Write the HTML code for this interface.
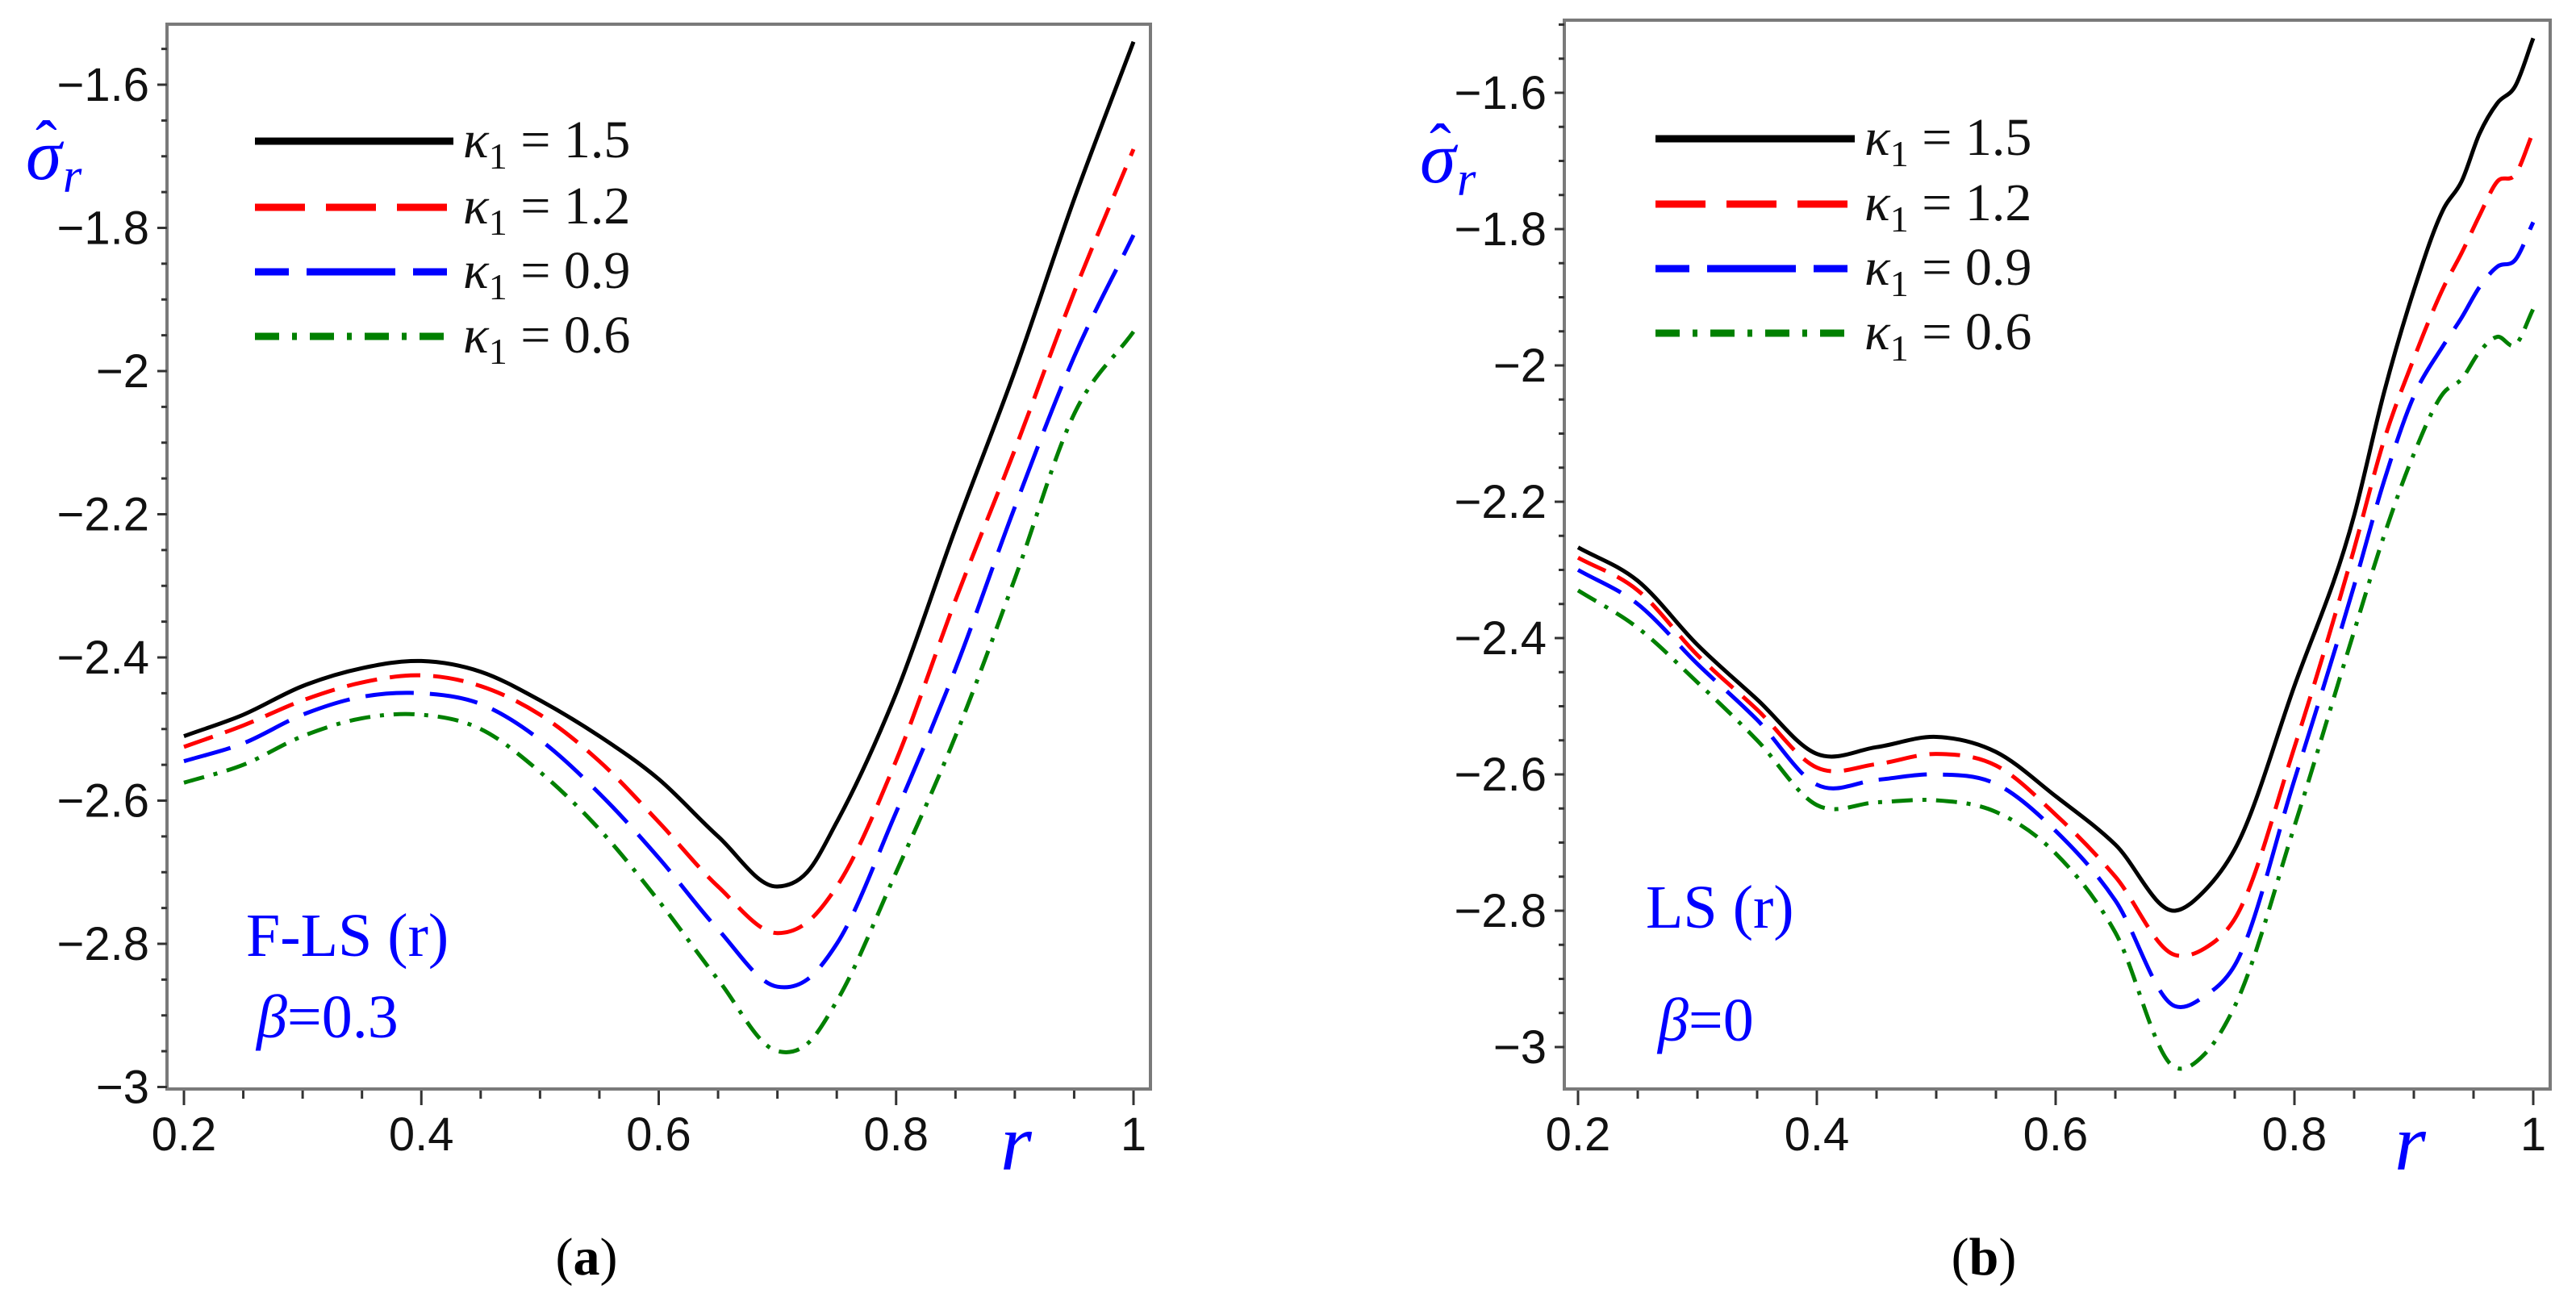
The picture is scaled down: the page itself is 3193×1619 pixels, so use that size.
<!DOCTYPE html>
<html><head><meta charset="utf-8">
<style>
html,body{margin:0;padding:0;background:#fff;}
svg{display:block;}
</style></head>
<body>
<svg id="fig" width="3193" height="1619" viewBox="0 0 3193 1619" xmlns="http://www.w3.org/2000/svg"></svg>
<script>
// ---- data: panel (a) F-LS beta=0.3 ----
const rA = [0.2,0.25,0.3,0.35,0.4,0.45,0.5,0.55,0.6,0.65,0.7,0.725,0.75,0.8,0.85,0.9,0.95,1.0];
const aK15 = [-2.51,-2.48,-2.44,-2.415,-2.405,-2.42,-2.46,-2.51,-2.57,-2.65,-2.72,-2.7,-2.63,-2.45,-2.22,-2.0,-1.76,-1.54];
const aK12 = [-2.525,-2.495,-2.46,-2.435,-2.425,-2.44,-2.48,-2.545,-2.63,-2.72,-2.785,-2.77,-2.72,-2.544,-2.32,-2.11,-1.89,-1.69];
const aK09 = [-2.545,-2.52,-2.48,-2.455,-2.45,-2.465,-2.515,-2.59,-2.68,-2.78,-2.86,-2.85,-2.8,-2.616,-2.416,-2.19,-1.98,-1.81];
const aK06 = [-2.575,-2.55,-2.51,-2.485,-2.48,-2.5,-2.56,-2.64,-2.74,-2.85,-2.95,-2.94,-2.88,-2.70,-2.51,-2.29,-2.06,-1.945];
// ---- data: panel (b) LS beta=0 ----
const rB = [0.2,0.25,0.3,0.35,0.4,0.45,0.5,0.55,0.6,0.65,0.7,0.725,0.75,0.8,0.85,0.875,0.9,0.925,0.94,0.955,0.97,0.985,1.0];
const bK15 = [-2.267,-2.316,-2.41,-2.49,-2.57,-2.56,-2.545,-2.567,-2.632,-2.703,-2.80,-2.77,-2.71,-2.47,-2.22,-2.04,-1.89,-1.77,-1.73,-1.66,-1.615,-1.59,-1.52];
const bK12 = [-2.282,-2.33,-2.425,-2.505,-2.59,-2.585,-2.57,-2.587,-2.659,-2.75,-2.865,-2.855,-2.812,-2.56,-2.269,-2.11,-1.99,-1.885,-1.835,-1.78,-1.73,-1.72,-1.657];
const bK09 = [-2.30,-2.35,-2.438,-2.52,-2.615,-2.608,-2.60,-2.614,-2.683,-2.785,-2.94,-2.925,-2.88,-2.608,-2.323,-2.17,-2.045,-1.97,-1.93,-1.885,-1.855,-1.845,-1.79];
const bK06 = [-2.33,-2.385,-2.465,-2.55,-2.645,-2.641,-2.638,-2.655,-2.716,-2.832,-3.03,-3.01,-2.94,-2.676,-2.39,-2.25,-2.13,-2.04,-2.02,-1.98,-1.958,-1.97,-1.917];
// ---- tick labels & legend ----
const xTickVals = [0.2,0.4,0.6,0.8,1];
const xTickLabels = ["0.2","0.4","0.6","0.8","1"];
const yTickVals = [-1.6,-1.8,-2,-2.2,-2.4,-2.6,-2.8,-3];
const yTickLabels = ["\u22121.6","\u22121.8","\u22122","\u22122.2","\u22122.4","\u22122.6","\u22122.8","\u22123"];
const legendVals = ["1.5","1.2","0.9","0.6"];

const NS="http://www.w3.org/2000/svg";
const svg=document.getElementById('fig');
function mk(tag,attrs,parent){const e=document.createElementNS(NS,tag);for(const k in attrs)e.setAttribute(k,attrs[k]);(parent||svg).appendChild(e);return e;}

const styles=[
 {color:"#000",dash:"none"},
 {color:"#ff0000",dash:"38 16"},
 {color:"#0000ff",dash:"60 20"},
 {color:"#008000",dash:"26 12 5 12"}
];

// cubic Hermite through points with x-aware tangents (handles uneven spacing)
function smoothPath(pts){
  const n=pts.length, m=[];
  for(let i=0;i<n;i++){
    if(i===0) m.push((pts[1][1]-pts[0][1])/(pts[1][0]-pts[0][0]));
    else if(i===n-1) m.push((pts[n-1][1]-pts[n-2][1])/(pts[n-1][0]-pts[n-2][0]));
    else{
      const s0=(pts[i][1]-pts[i-1][1])/(pts[i][0]-pts[i-1][0]);
      const s1=(pts[i+1][1]-pts[i][1])/(pts[i+1][0]-pts[i][0]);
      const h0=pts[i][0]-pts[i-1][0], h1=pts[i+1][0]-pts[i][0];
      m.push((s0*h1+s1*h0)/(h0+h1));
    }
  }
  let d="M"+pts[0][0].toFixed(1)+","+pts[0][1].toFixed(1);
  for(let i=0;i<n-1;i++){
    const h=pts[i+1][0]-pts[i][0];
    const c1=[pts[i][0]+h/3,pts[i][1]+m[i]*h/3];
    const c2=[pts[i+1][0]-h/3,pts[i+1][1]-m[i+1]*h/3];
    d+=" C"+c1[0].toFixed(1)+","+c1[1].toFixed(1)+" "+c2[0].toFixed(1)+","+c2[1].toFixed(1)+" "+pts[i+1][0].toFixed(1)+","+pts[i+1][1].toFixed(1);
  }
  return d;
}

function panel(cfg){
  const g=mk('g',{});
  
  
  const X=r=>cfg.x02+(r-0.2)/0.8*(cfg.x1-cfg.x02);
  const Y=v=>cfg.y16+(-1.6-v)/0.2*cfg.dy;
  const fr=mk('rect',{x:cfg.L,y:cfg.T,width:cfg.R-cfg.L,height:cfg.B-cfg.T,fill:"none",stroke:"#7a7a7a","stroke-width":4},g);
  
  
  for(let k=-1;k<=30;k++){
    const v=-1.5-k*0.05; const y=Y(v);
    if(y<cfg.T-2||y>cfg.B)continue;
    const major=Math.abs((v/0.2)-Math.round(v/0.2))<1e-6;
    mk('line',{x1:cfg.L,x2:cfg.L-(major?12:7),y1:y,y2:y,stroke:"#333","stroke-width":3},g);
  }
  yTickVals.forEach((v,i)=>{
    const t=mk('text',{x:cfg.L-22,y:Y(v)+20,"text-anchor":"end","font-family":"Liberation Sans, sans-serif","font-size":58,fill:"#111"},g);
    t.textContent=yTickLabels[i];
    
    
  });
  for(let k=0;k<=16;k++){
    const r=0.2+k*0.05; const x=X(r); const major=k%4===0;
    mk('line',{x1:x,x2:x,y1:cfg.B+2,y2:cfg.B+(major?20:12),stroke:"#333","stroke-width":3},g);
  }
  xTickVals.forEach((v,i)=>{
    const t=mk('text',{x:X(v),y:cfg.B+76,"text-anchor":"middle","font-family":"Liberation Sans, sans-serif","font-size":58,fill:"#111"},g);
    t.textContent=xTickLabels[i];
    
    
  });
  cfg.series.forEach((s,i)=>{
    const pts=cfg.r.map((r,j)=>[X(r),Y(s[j])]);
    const p=mk('path',{d:smoothPath(pts),fill:"none",stroke:styles[i].color,"stroke-width":5,"stroke-dasharray":styles[i].dash,"stroke-linejoin":"round"},g);
    
    
  });
  cfg.legY.forEach((y,i)=>{
    const l=mk('line',{x1:cfg.legX1,x2:cfg.legX2,y1:y,y2:y,stroke:styles[i].color,"stroke-width":9,"stroke-dasharray":i===0?"none":(i===1?"62 26":(i===2?"42 22 110 22":"30 16 6 16"))},g);
    
    
    const t=mk('text',{x:cfg.legX2+12,y:y+20,"font-family":"Liberation Serif, serif","font-size":66,fill:"#111"},g);
    t.innerHTML='<tspan font-style="italic">κ</tspan><tspan font-size="46" dy="14">1</tspan><tspan dy="-14"> = '+legendVals[i]+'</tspan>';
    
    
  });
  return g;
}

panel({name:'panel-a',L:207,R:1426,T:30,B:1350,x02:228,x1:1405,y16:105,dy:177.5,r:rA,series:[aK15,aK12,aK09,aK06],legX1:316,legX2:562,legY:[175,257,337,417]});
panel({name:'panel-b',L:1939,R:3161,T:25,B:1350,x02:1956,x1:3140,y16:115,dy:169,r:rB,series:[bK15,bK12,bK09,bK06],legX1:2052,legX2:2299,legY:[172,253,333,413]});
</script>
<svg width="3193" height="1619" style="position:absolute;left:0;top:0" xmlns="http://www.w3.org/2000/svg">
  <g fill="#0000ff" font-family="Liberation Serif, serif" font-style="italic">
    <text x="32" y="222" font-size="90">σ</text>
    <text x="44" y="205" font-size="80" font-style="normal">ˆ</text>
    <text x="78" y="238" font-size="60">r</text>
  </g>
  <g fill="#0000ff" font-family="Liberation Serif, serif" font-style="italic">
    <text x="1760" y="226" font-size="90">σ</text>
    <text x="1772" y="209" font-size="80" font-style="normal">ˆ</text>
    <text x="1806" y="242" font-size="60">r</text>
  </g>
  <text x="1240" y="1450" font-family="Liberation Serif, serif" font-size="100" font-style="italic" fill="#0000ff">r</text>
  <text x="2968" y="1450" font-family="Liberation Serif, serif" font-size="100" font-style="italic" fill="#0000ff">r</text>
  <text x="305" y="1185" font-family="Liberation Serif, serif" font-size="76" fill="#0000ff">F-LS (r)</text>
  <text x="318" y="1286" font-family="Liberation Serif, serif" font-size="76" fill="#0000ff"><tspan font-style="italic">β</tspan>=0.3</text>
  <text x="2040" y="1150" font-family="Liberation Serif, serif" font-size="76" fill="#0000ff">LS (r)</text>
  <text x="2055" y="1290" font-family="Liberation Serif, serif" font-size="76" fill="#0000ff"><tspan font-style="italic">β</tspan>=0</text>
  <text x="727" y="1580" text-anchor="middle" font-family="Liberation Serif, serif" font-size="66" fill="#000">(<tspan font-weight="bold">a</tspan>)</text>
  <text x="2459" y="1580" text-anchor="middle" font-family="Liberation Serif, serif" font-size="66" fill="#000">(<tspan font-weight="bold">b</tspan>)</text>
</svg>
</body></html>
